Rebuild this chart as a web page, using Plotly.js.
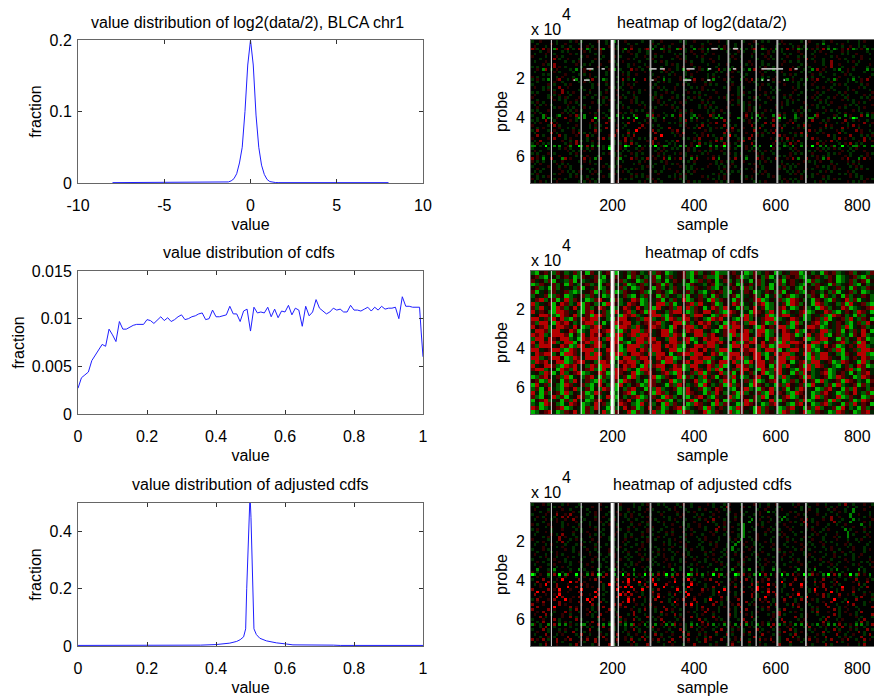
<!DOCTYPE html>
<html><head><meta charset="utf-8"><script src="https://cdn.plot.ly/plotly-3.0.1.min.js"></script>
<style>html,body{margin:0;padding:0;background:#fff}</style></head><body><div id="c" style="width:874px;height:697px"></div>
<script>
const log2X=[-8,-6,-4,-2,-1.6,-1.44,-1.28,-1.12,-0.96,-0.8,-0.64,-0.48,-0.32,-0.16,0,0.16,0.32,0.48,0.64,0.8,0.96,1.12,1.28,1.44,1.6,2,4,6,8];
const log2Y=[0.0005,0.0005,0.0005,0.0006,0.0008,0.001,0.0015,0.003,0.006,0.013,0.028,0.05,0.1,0.165,0.2,0.165,0.095,0.05,0.025,0.012,0.005,0.002,0.001,0.0007,0.0005,0.0005,0.0005,0.0005,0.0005];
const cdfX=[0,.01,.02,.03,.04,.05,.06,.07,.08,.09,.10,.11,.12,.13,.14,.15,.16,.17,.18,.19,.20,.21,.22,.23,.24,.25,.26,.27,.28,.29,.30,.31,.32,.33,.34,.35,.36,.37,.38,.39,.40,.41,.42,.43,.44,.45,.46,.47,.48,.49,.50,.51,.52,.53,.54,.55,.56,.57,.58,.59,.60,.61,.62,.63,.64,.65,.66,.67,.68,.69,.70,.71,.72,.73,.74,.75,.76,.77,.78,.79,.80,.81,.82,.83,.84,.85,.86,.87,.88,.89,.90,.91,.92,.93,.94,.95,.96,.97,.98,.99,.995,1];
const cdfY=[.0027,.0038,.0041,.0044,.0056,.0062,.0068,.0073,.0071,.0089,.0083,.0076,.0097,.0089,.0089,.0091,.0093,.0094,.0094,.0094,.0099,.0098,.0095,.0098,.0102,.0098,.0101,.0097,.0099,.0102,.0104,.0099,.0100,.0102,.0103,.0105,.0106,.0099,.0100,.0109,.0102,.0102,.0103,.0104,.0113,.0105,.0105,.0097,.0108,.0110,.0087,.0112,.0106,.0107,.0106,.0112,.0102,.0110,.0101,.0108,.0107,.0114,.0104,.0111,.0109,.0092,.0113,.0103,.0107,.0120,.0111,.0108,.0105,.0107,.0111,.0109,.0110,.0107,.0107,.0114,.0109,.0109,.0108,.0110,.0112,.0108,.0112,.0109,.0113,.0110,.0111,.0111,.0112,.0100,.0123,.0113,.0113,.0112,.0112,.0112,.0085,.0060];
const adjX=[0,.2,.355,.40,.42,.44,.46,.47,.48,.486,.489,.4927,.4957,.4986,.5014,.504,.507,.51,.517,.527,.546,.575,.604,.623,.74,.76,1];
const adjY=[.002,.002,.003,.005,.007,.01,.016,.022,.032,.06,.2,.36,.45,.53,.45,.33,.2,.06,.04,.027,.018,.011,.007,.004,.003,.002,.002];
const sampleGaps=[50,123,167,197,200,203,214,293,375,484,517,552,604,674];
const gapWidths=[1,1,1,1.4,1.4,1.4,1,1.8,1,1.8,1.8,1,2,1.8];
const gapColors=['#ddd','#f4f4f4','#f4f4f4','#fff','#fff','#ddd','#f4f4f4','#a8a8a8','#f4f4f4','#b0b0b0','#a8a8a8','#f4f4f4','#b0b0b0','#b0b0b0'];
const grayRow1=[136,153,173,181,291,308,316,328,381,401,434,442,495,503,565,618,646,654];
const grayRow2=[104,108,130,144,295,301,373,393,432,440,565,569,579,585,619,623];
const grayRow3=[442,458,495,508];
const xTicksHeat=[200,400,600,800];
const yTicksHeat=[20000,40000,60000];
const yTickHeatText=['2','4','6'];
const heatLog=[
"g..r.....g....g.r.g.....r..g..h...r.....g...g..r......g.g..r....g...r..g.....g...r..g.g....r......g..r....g..r.....g...g.r....",
"..g....r.g..r....g...g.....g.r.....g..g.....r.g....r....g.....g..r.....g..g....r..g.......g.r.g.....r...g.h....g.r.....g.....r",
".r...g.....g..g.....r.g.....r..g....r......g.g..r.g....r..g...r.....g.r...g.....g...r....g.....g.r.g....r...g....g..r..g.g....",
"srg.s.r.hs..rs.g.sr.hg.r.sh..srg.rh.s..g.rs.h..hg.r..hs.g..h.rg.h.s..hr.g.s.h.g.rs..hg.r.h.g.s.r.hg.h.r.g.s.h.hg.r.s.hg.r.h.gh",
"...g..r....g.g.....r.g...r.......g.r...g..g.....r.g.....g.r...r.g......g...r.g...g....r.g..g.....r.....g.r...g...r.g......g...",
".g...r..g.....r.g......g.r...g......r.g...g..r......g.g....r...g..r.....g.g.....r...g.r.....g.g...r...g....r.....g.g..r....g.",
"r....g...r.g......g.r.....g...r.g.....g..r...g.g.....r..g...g.r.....g....r..g...g....r.g.....r...g.g...r.....g.r.....g..r....g",
"...g....s.g..r...g.....r.g...g.....r.g....g.r......g..r.g.....g..r..g...g.r.......g...r.g..g.....r..s.g...g.....r.g.....r..g..",
".g...r......g..g.r....g.....r.g..r.....g.....g.r.g......r.g...g...r.....g...g..r....g.......r.g..g.....r..g..s.....g.r.g......",
"....r.g.s.......r..g.g...r.....g...g.r...g.......g.r.g....r.....g...g..r......g.r...g.g....r......g.r.....g..s..r.....g....r.g",
"g.g.....s.r.g.....g.....r..g.r.....g...g..r....g.....g.r...g.r.....g.....g..r......g.r..g......r.g...g.....r.s...g...r....g...",
"..r.hs.g.r....g.h..r.sg.....r.h.g...s.r.g..h....s.r..g.h.s...rg.h...s.g.h.r..g.h.s..r.g.h.....s.r..g..h.s.r...g.h..r.g....h.g.",
".g......r.g....g...r.......g.r...g.g.....r.....g.r.g....g...r......g.g...r.g.......r.g...g.r......g..g...r.g.....g.r.....g...r",
"....g.g.....r....g.g.r.....g.....r.g..r.....g.....g.r...g.r.....g.g....r....g.g.....r.......g.r.g.....r..g....g...r.g.......g.",
"r.g......g.r...g.....r.g.....g.g...r.......g..r.g.....r...g.....g.r.g....r...g......g.g..r.....g....r.g...g.....r....g.g...r..",
"g.r.g.h..rs..g.rh...g.s...hg.r...s.g.h...s.g.r..h.g...r.hg.s..r.g.h...r.g...h.r.s.g.h...r...gh.r..g.h.r.s...g.hr...g.h..r.s...",
"..g.....r..g.....g.r.g.....r...g.g....r.......g.r.g.....g..r...g.r.....g.g.....r.g......g.r....g.g.....r...g.r.....g..g.r.....",
"g.....r.g...g.r.......g.r..g.....g.r.g.....r.g.......g.r.g.....r.g.g.....r..g.....g.r.g.....r....g.g..r.......g.r.g.....g.r...",
".r..g.g...s..r....g...g.....r.g.g...r.......g.r.g...r.....g.g.r.......g.r..g.g.....r...g.g.....r.g......g.r..g.....g...r.g....",
"....g.r.g..s.....g.g.r.....g...r.g.....g.r.....g.g..r...g.....r.g.g.....r..g.....g.r....g.g.....r...g.g.....r.g....g.r.....g.g",
"g.g.....r..s.g.r.....g...g.r.......g.r.g.....g...r.g.....r.g.g.....r.......g.r.g.....r.g.g.....r..g.....r.g.....g.r...g.....r.",
".r....g.g.r...g.....r..g.g.....r.g...g.....r.g.r.....g.g.....r.g.......g.r.g.g.....r.g......r.g..g.....r.g.....r.g.g.....r.g..",
"r.....gr..g.rg...r.g..g...rg....r.g..rg.....gr.g...r.g...g.r.g...r..g.rg...r...g.rg...r.g...g.r.....g.r.g...g.r...gr....g.g.r..",
"..g.....r.g.g...r.......g.g.r.g.....r.g.....g.r...g.....r.g...g.r......g.r.g.....g.g...r.....g.r.g.....g.r.g.....r.g.g.....r..",
"g.r.g.......g.r.g.....r.g.g.....g...r.g.g.....r.g...g.r.g.....r.g.g.....r..g.g.r.....g.....r.g.g...r.....g.g.r.......g.r.g....",
".g.g.r.g.....r...g.g.....g.r...g.g.....r.g.....g.r.g...r.....g.g.r.......g.r.g.g...r.....g.r.g......g.r.g...g.....r.g.g.....r.",
"..r.....g.r..g.g...r.g.......g.g.r.g.....r.g.g.....r.g.......g.r.g.g...r.....g.r.g.g.....r.g......g.r...g.g.....r.g....g.r...g",
"g.g...r.....g.g.r.g.....r...g.......r.g.g...r.......g.r.g.r.....g.g..r.......g.r.g...r.g.......g.r.g.g.....r.g.g.....r.g......",
".r.g.......r.g.g.....r.g..g.....r.g.g.....r.g...g.....g.r.g.....g.r...g.g.....r.g.r.g.....g.r...g.g.....r.g.....g.r.....g.g.r.",
"g...hr...gh...r.sg.h...r...g.s.h.g...hr...h.s.r..g.h..s...gh.r...sg.h...r.....s.g.h.r...h.s.g...h.r.g..hs.....rg..h.r...s.h.g.",
"..g.h.hg.r..s...gh.h...G..r.hg...h.h..G...r.hg..h...r.g...h.h.r...gh.h.....hg.r.h..h.g..r.G.h...hg...hh.r...g.h.h...gGh.....g.",
"g.g..s..g.....r.g.....s.g...r.g......s...g.r.g..r.....g.s.g.r...g.....s.g....g.r..g.....s.g...r.g...g.s...g.r.....s..g.r..g...",
".g.r...s.r...g.......r.g...s.....g.s...g..r.......g.g.r.g.....g..r.s...g.......r.g...s.g.....r.s...g.....r.g...g.r.g.....s..r.",
"r.....g.s.g.....r....g.r.g...s.r..g.....s...g.g.......g.r...g.s.g.....s.g.g.....s...g...s.r.g....g.s.r.....s.r.....g.s.r...g..",
"..g.r.....r..g.g.....g.g...s.r...g.....s.r.....g..s......r.g.s...g.r.g...s...r...g.s.......s...g.r.g.....r.g.g...s.r...g.......",
"g.s...g.r..g...r.g.....s.g...r.s...g..R.....s.g....r.s.g.......r.g.....s.r.g.....s...g.r.s.g.........s.r.g.....r.g....s.r..g.",
".g.....s.g.....r.s.g.g.r.....g.r...s.g.....r.s.....g.r.s...g..r.......s.g.....r...g.r.g.s.....g.r.s.g...g.r.....s.g.....r...g",
"..s.g.....s.g...r...s.g.....r.s..g.g.s.....g...R....g.r.....g.r.s.g...g.R.g.....s.r.g.....s.r...g.g.s.......s.g.....s...g.g.r.",
"r.....r.s...g.r.....g...r.s.g.....s.r..g.g...s.........g.g.r.s.....g.s.r...g.g.s.......r.g.g.s.r....g.s.r.....g.s.r..g...s.g.",
".g.s.......r..g.s.g.g.r.......g.r.s.g.....r.s....g.g.s.....g.g...r.s.g.g...r.s...g.......s.r.g.g.s.......g.r.s.g.......r.s..r",
"g.r.g.g.....g.r.s.....g.r.....g.g.r.s.g.....s.r...g.g.....r..s.g.g....s.r.g.g...s.......r.g.g.s.r.g.....s.r.....g.r.s.g.g.....",
"hh.g.G..h.h..rh..Gh.s.h.h.g.hh..r.Gh...h.g.h.G.rhh..g.h.h.r.Gh...h.h.rG.g..hh.r..h.h...G.r..hg.h..h.r.G..h.h.rh..G.g.hhr.h..hG",
"g.....g...g.r.g...g.g.r...g.G...r.g...g.r.....g.r..g.g...r.g.....r.g..g.r.g...r.g.g.....r.g...g.r.......r.g.g.r.g...g.r.......",
".r.g.........r.g.g.r.g.......g.r.g.g...r.....g.r.g.......r.g.r.g.g...r.........g.r.g.r.g.......g.r...g.g.r.g.....r.g.g...r....",
"g.g...r.g.....g.r.........g.r.g.g...r.g.g.....r.g...g.r.g.....g.r.....g.r.g.g.....r.g...g.....r.g.g...r.....g.g.r...g.....r.g.",
"..r.g.....r.....g.g.r...g.....g.r.g...g.....r.g.r.g.....g.r.g.....r.g.....g.r.g...g.r.....g.g.r.......g.r.g.g.....r.g...g.r...",
"s.r.h..s...hs.r....s.r.h.s.....rh...s.r.g.s..r..s.h.r.s...h.s...r.s.h...r.s...h...s.r.g..s...r.s.h..s...r.h.s....r.s...h.s.r.",
"r.g.g...g..r.....g.r.g.......r.g.g.....g.r.g...g.r.....g.g.r.......g.r.g.g...r.....g.r.g...g.......r.g.g.r...g.....r.g.r.....",
".g.r.....r.g.g.......r.g...g.r.g.....g.r...g.g...r.g.r.....g.....r.g.g...r.....g.r.g.......r.g.g.r.....g.....r.g...g.r.g......",
"g.....r...g.r.g...g.......r.g.g.r.......g.r.g...g.....r.g.g.....r...g.g.r.g.......r.g.....g.r.g.g.......r.g.g.r.....g.r.g.....",
"..r.g.....r...g...r.g.g.....r.....g.g.r.g.......g.r.....g.g.r.g.....g.r.....g.g.r...g.....r.g.g.....r.g.....g.r.g.....g.r.g...",
".g.g.......r.g.g.r...g.r.g.....g.r.g.......r.g.g.....r.g.g.r.........g.r.g.g.....r.g.r.......g.g.r.g.....g.r.g.....r.g.......g",
"g.r.....g.r...g.g.....r.g...g.r.....g.r.g.....r.....g.g.r.g.......g.r.g.g...r.....g.r.g.......g.r.g...g.r.......g.g.r.g.......",
"..g.g.r.......g.r.g.g.....r.g.......r.g.g.r.......g.g.r.g.....r.g...g.r.....g.g.r.....g.r.g.......r.g.g...r.g.......r.g.g.....",
"r.g.....g.r.g.....g.r.g.g.......r.g.g.....g.r.g.....r.g.g.......r.g.g.r.....g.r.g.........g.r.g.g.r.......g.g.r.g.......g.r.g.",
".g.r.g...r.......g.g.r.g.....g.r.......g.r.g.r.g.......g.r.g.g.....r.g.g.r.......g.g.r.....g.r.g.g.....g.r.g.......r.g.g.r...g",
];
const heatCdf=[
"hGrsghsrhgshrGsghrshGgrhsrhgshsrGhgrshGshrgsGhhrsgrGhshgsrGhrgssGhrhgGsrshgrshrghs",
"rshGgrhrsgGhsrgshGrhsgrGshrhgsGrhsgrshGrgshhGsrgrsGhgsrhsGgrhsrshGgrsghsrGhgrshGsg",
"sgrhsGrghsGrhgrsGhgsrshgrGhsgshrGgsrhrGhsgsrGgshrhsgGrshrghsGrsgrhGshgrsrGhgshrsGr",
"GhsrgshrGsghrshgGrsrhgsGhrshgrsGshrghGsrghrsGhgsrGhrsgshrGgshrsghGrhsrgGshgrshGrhg",
"rshgGshrgrhsGrgsGhrsgshrGhsrgGshrhsgrGhsrgshGrhgsrGshrghsGrgshrhGsgrsGhrgshrGsghsr",
"sGgrhsgrshGhgrsGrhsgGhsrgrshGgsrhGsrgshrhGgsrshGrghsrGhgsrhsGrgshGrsghrhsGgrshrGhg",
"hrgsGhsrGhgrshsgrGhsrgshGrhsgrGshrghsGrgshrGsghrsGhgrshrGgshrsGhgrhsrGsghrGshrgsrh",
"gsRhrsGgRhsrgGhsRrgGshrgRsGhrgsGrhsgRGhrsgGRhsrgGshrgsRGhrgshGRsrhgGsrhGsgrRhsGgrh",
"RhgrsGrRshgRGsrhgGRsrhgRsrGhsgRRhsGgrsRhRgrsGhrgRsGgrhsRGhrgsGRshrgGRshgrhsGRgrshG",
"shRgrGRshrRgGshrRsgGhrRsgRrhsGRgrshRgRhsrGgRshRrgGshrRgsGhrsRgGhrshgGRshrgRsGhgrsR",
"RgsrhGRRsgrhGsRrgshGRgsRhrsGRRgrhsRRgGhsrRRgshGRsrhgGRsrhRgsGhrgsRGhrgRshGgsrhRsgG",
"grRRshGRsrRhgsGRRshrgGRsRhgrsRRhGsgrRshRRgrGhsRsgrGRhsrgRGhsRRgrsGhrgshGRsrhgGshrg",
"RRgshRrRhGsgRsRRgrhGsRRrgshRRhgsGRshRRgsrhGRsRgrhGsRhrgsRRGhgrRsgGhrshRGgrshRghsrG",
"shRRgGRsRrhgsRRhrGgsRsRRghrsRsRhgrRRGshrRsRghrGsRsrhRRgsGhRrgsGRhrgsRhGrgsrhGgshRr",
"RrsRhgRRsgRrGhsRRgrsGRRshRgrRRshgGRrsRRhgRsgrGRhRRsgrhGRrsgRRhGsrgRRsGhrgshRGgrshg",
"gRRshRRgrRsGhgRRrsRRhGsgRRhsRgrRRGsrhRsRRgrhGgsRRrsRhgRRGhsrRsgRhGrsgRRhgsGrhsgRrG",
"RsRhgRRRsGrhRgRsRrhGRRgsRhRRsgrRRhRsGrgRRhsRrgsGRhRRrgRsGhrgRRsGhrRgsRhGrshgGsrRhg",
"hRRgRsrRRhgGRsRRrhRsRGgrhRRsRRgrhRRgsRGhrRsRRhgGrsRRhRgrGsRhRRsgrRGhsRRrgGshrgRsGh",
"RgRsRRhgRRGrsRhRRgrRRshGgRRhRsRrgRRshRgGrhRRsRrgRhGsRRrRgshGRhRRsrgRRhGgrsRhgsGRrh",
"shRRRgrRsGhRRgsRRhrRsGgRRRhsrRRgRsRhGrgRRsRRhrgGRRsRgrhRsGhRRRgsrRRGhgRrsGhrsgRRhg",
"RRgrsRRhGRsgRRRhrgRRsGhRRgRshRRrgRRGhsRRrRgshRRGrgRsRRhgRRsGrhRRgsRhGgrshRGrgshRRs",
"gRsRRhrGRRsgrRhRRgsGRRhrRRsgRhRRrGgsRRhRRrgRsGhRRRgsrRRhGgRsRRhrgRGshRRgrhGsrgRRhG",
"RRhgsRRrGhRsgRRRhrsRGgRRhsRRrgRsRRGhrgRRsRRhgrGRsRRhgRRrGsgRRhRsrgGRhRRsgrGhrsgRsh",
"hRsRgrRRGhsRRgrhRRsGgRsRRhrRRgsGRRhrsRgRRhGsrRRgRhsGRrRRgshRRrGgsRhRRgrsGhRsrgGRhr",
"RgrRRshGRsRgrhRsGRRghrRsRgGRhsRRrgRsGhRRgrRshRGgrRRshgRRrGsRhRgrsGRhRsgrhGgshrRsGh",
"sRRhgrGRshRgrsRhGRgrRsRhgGRRsrhRgsRRGhrRsgRhRGrgshRRrgGRshRRgrhGsRRhgrsGhgrsRhGsrg",
"grhRsGgRhrsRGhgrRsGhRsrgRGhsRrgsRhGRrgshRGsgrRhsGrRgshrRGhsRgrGshRrhgsRGhrsgGrhsRg",
"GhsRrgshRGgrhsRgGshrRgsGRhrgsRGhsrgRGshrhRgsGrshRgGhrsRgrGshRhgrsGRhgrsGhRsgrGhRsr",
"rsGhRgrGshRrgshGRhgrsGRsrhgGRshrgRGhsgrRhGsgrhRsGrgshRGhrsRgGhshrRgsGRhgrsGRsrhgGs",
"GRgshrhGRsgrshGgRrhsGRghrsGhRsrgGshRrhgsGRrhgsGRhsrgGRsrhgGshRrgshGRgrhsGRhgrsGshr",
"hsGrRghGsrRhgsGrhRsgGrhsRgrGshRhgrsGhRrgsGhrRsghGrsRhgGsrRhgsGrhRsgrGhsRgrGshRgrhs",
"RgGshrsGRhrgsGhRsgrGhrsRGghrsGRshrgGhRsrgGshRrhgsGRhrgshGRgsrhGRsrgGhsRrgGhsrRghsG",
"shGrgRhsGgrRshGrhgRsGrhgsRGhrsgGRshrhGgsRrhGsgrRhGsrgshRGrhgsRGhrsgGRhsrgRGhsgrGhs",
"GrsRhgrGshRgrGhsRrgGhsrRgGhsrgRshGrhgsRGrhsgRrGhsgrRGshrgRhGsrgshRGhrgsGRhrgsGhRsr",
"hgGRsrhGgRsrGhgRrshGgRsrhGRgshrGRhsgrGhRsgrGRhsrgGhRsrgGhsRgrhGsRgrGhsRhgrGshRgsrG",
"RsGhgrsRGhrgGshRrgGshgRrsGhrRgsGhrsRGhgrsGRhrsgGhRsrgGRhsgrGhsRgrGshRhrgsGRrhgGshr",
"GhrsRgGhsrRgGshrgRhGsrgRGshrgRhGsrgGRshgrRGhsrgRhGsgrGRhsrgGRshgrRGhsrgGhRsgrGhsRg",
];
const heatAdj=[
"g...r.g....g.r...g.......r...g..r....g..g.r...g.g....g.r..g.....r.g...g.r...g....r.g..g..r.....g.r..g...r..g....g.s..g...r..g.",
"..g.....g.r.....g.g...r....g.r..g....g.g...r.....g..r.g...g..r....g..g.s.....r.g...g..r...g.....r.g..g.....r.g.r...g..g....r.",
".r....g....r..g.....g....r...g..g..r...g..r.g.....g.r...g....g.r...r..g.r...g.....g..r...g.r......g..r..g...g.r...g..h...r...",
"...g..r..r.....r.g...g.r....g..r...g.g...r....g.g....r...g.r.....g..r...g...r.g....r..h.g.....r.g...r...g....g..r.g..h.....g.",
"g....r...s..r.s.....g..r...g....r.g.r..g...g...r.....g.r....g.g...r....g..r..g...g.r.....g...g...r.g....r..g...g....h..r...g.",
"..r.g...g..s.s..r.g....g..r...g...g.r...g.r.....g.g...r....g.r...g..r.....g.r..g....g.r...g.h...r...g.....g..s..r...h....g.r.",
".g...r.g.r..r..s...g...r....g.r....g..g....r.g....g.r...g....g.r..s...g...r.g...h..r...g...h.g....r.s.g...r..s...g...h.g....r",
"....g....r.g....r.g..g...r.g.....g..r...g.r...g.r....g.g...r....s.g...r.g...r..h....g.r...g...r.g..s..g.r.....s.g...h....r.g..",
"r.g...r....g.r...g...g....g.r..g....g..r..g.....g..r...g.g...r.....g..r....g.h....r.g....g..r.....g.s...r...g..g..r.....h..g..",
".....g.r...g...g.r...r.g.....g.r...g.r...g..r....g....r..g...r.g....s.g..r...h..g...r..g.....r.g....r.g....g.....g...r...g.r..",
"g.r....g...r....g.g....r..g.....g..r..g...r.g..g...r....g.r....g...s..r....g.h...g....r.g.g...r.....g.r...g.r.....h.g....r...",
"..g..r.g.......r..g.r....g...g.r...g....g.r...g..r.g...r...g.....r.g...g.r...h.g.....r.g...r...g..g....r.g.....g...h..r..g.g.",
".g.....r.g.s...g.....r.g..g...r...g.g...r...g....g.r....g.r...g...r...g....g.h....r..g....g.r...g.....g.r..g...r...h.g....r...",
"....g.r...s.r...g....g...r..g.....g.r...g.g...r.g.....g.r...g..r....g...r..g.h.g..r.....g..r.g.....r.g....g...r.g..h.....g.r..",
"r.....g...s...g.r.g...r.....g.g...r...g...r..g....g.r...g....g.r....g...g.r.h...g.r....g.....r.g..g...r...g....r...g..g.r.....",
"..g.r....g.s.g.....g.g..r....g...r.g....g.r.....g.g...r..g....g..r.g.....g.h..r..g...r.g.....g..r....g...r.g.g.....r...g...g.r",
".g...g.r....g...g.r....g...g.r....g...g.r..g....r.g.g...r....g...g.r...g..h..r...g.g....r...g.....r.g.g...r....g..r.g.....g...",
"....r....g.r...g...g...r.g....g.r...g...r..g.g.....r..g.r...g.g....r...g.h....g.r...g..r.....g.g...r...g..g..r.....g.r...g....",
"g...r.g.....r..g....r..g....r..g..g....r.g....g.r.g.....g.r...g...r...g..h.g...r...g....g.r.....g.r..g.....g.r..g....r...g.r..",
"..g....g.r.....g.r...g..g...r....g.r..g.....g.r....g.r...g.....r.g...g.r..g..r...g..r.....g.g.r....g...r.g....g..r..g....g...",
".r...g...r.g.....g...r...g..g.r....g...r.g....g.r...g..r.g.....g..r...g...r.g...g.r...g.....r..g...g.r.....g..r...g..g..r....",
"...g.r...g...r.g...g...r...g..r...g.g...r....g..r..g....r.g.g...r....g.r....g.r...g.....g..r..g.....r.g...g...r.g....g.r...g.",
"g.....g.r...g.....g...r.g.g.....r..g....g.r.g....r.g..g....r...g..r.g....g...r.g...g.r.....g...r.g.....g.r...g....r..g.....r.",
"..r.g.....r.g.g..r....g....g.r.g....g..r...g.g..r.....g.r....g.g...r.g.....r.g....g...r.g.....g..r...g....g.r...g..r....g.g.r.",
".g....g.r.....g...g.r....g....r...g.g.r.....g.g...r.g.....g.r....g...r.g...g.r.....g.r...g..g.....r.g....g...r.g.....g.r...g..",
"...r.....g.r.g....g...r..g.g...r...g....r.g.....g.r...g..g....r.g.....g...r.g.....r.g...g.....r.g...g..r....g.g...r.....g...r",
"..h...g.h.....g..h.g....h...g.h..g...h...g.h.......h..g...h.g......h.g...h...g.h....g...h.g......h...g.h.....g.h...g...h.g....",
"r.g...r.g..g..r.....g.r...g.....r.g..g...r....g.r...g.....r.g...g.r.....g..r.g....g.r.....g.r...g.....r..g...r...g.....r.g...g",
"Gh.r..h.s.G.hs..G.r.h.s.Gh.s.rh..G.s.h.r.G.sh.s.rG.h.s.r.Gh.s.h.r.G.sh.r..Gh.s.r.h.G.s.h.r.G.h.s.r.G.hs.r.h.G.s.h.r.G.hs.r.h.",
"..r...g...g.r...g..r....g.s....g..r...g.g....r...g.s....g.r...g.....s.g...g.r..g.....g...r.g....r...g.....g.r...g...r.g....g.",
"g...s....r.R.....s...r.s.....g.s...R.s...r..R.g.....s..r.R.g...r.s......g.r...s.g...r.s.....g...s..r...g..s...r...g...s...r.g.",
"..s...s.g.....R.s..r.....s....g..s.R...R..g.s.....r.R.....s..g.....s.g...r..s...g.s.r....g.R...r....g..s.r...g.s.....r.g..s...",
".g.r.R...s...r....s.r.....g.R..s...s...g.s...R...s.....g..R.r..g....s...r.g.....s.g...R.r...g.s...R....g..s...r.g......s.g...",
"...r.....s...R..s...r.r...g..s..s.R.R...g.s.....R..g.r...R.....g..s...g...s..r.g..R.r....s..g.....s.g...r.s..g...R...r..g.s..",
"s.....s.r.R...r...R.....s.g..r.R.....s..R...g.s......R..g.r...s.r.g...R.....g...r.R...s....g...s.....g.R...s...g.s...r.g.....",
"..R.s.....s..r...s.....R...g.R...s.R..r.g...s.....r...g.R.....r...g.R...r.g..s...r..g.R.s..g.....r...g.s.....R.g.....s...g.r.",
".s...r..r.R.......s..r..s.g..r..R.s.s...g...r.s...g.s....R...r....g.r.....g.r...s.g...r..s...g.r.R..g...r.s.g...s..r.g...r..g.",
"...r.....R.s...r.s.....R.....g.s...s...s.r..g.R.r..g....s..r.....g...s.g..r.....s.g..R...r.g..s...g.R.....s.g...r.....g.s...r",
"g.s...r.s...R.r.....R.s...g..r.....R.s...g.r.s....g..r.s...s...g.R...r.g...s.....g.s.r..g...s...g.s...r.g.....R...g...s.....g.",
"..r.s.....s...r..s...R...s.g.R...s.R.r...g.....s..g.R.....r.s..g...s.g..r.....s.g...r.s.g...r...g...s...g.r..s...g.R.....g.r..",
"s...r.....s.r.....r...s.g.....s.s.....r.g..s.......g.r..s.R.g.....s..g...r.s...g.r.....g.s...g.s.r...g.....s...g...r.s...g....",
"..s.....R.....s.r.....g.r.s.....r.s..g...r.g.r..s...g.....r.g.s.....g.r...g.s.....g.r.s..g.....g.s....g.r...s...g.r...g.....s",
"s.....s.r.....g.s...r.g.r...s.g.....r..g.s...g...s.r..g.....g.r.s...g...r.g...s.....g.r...g.s.....g...r.g.....s.g..r...g.....",
"..r.s...g...s.r..g...s.g...r.s.g.....s.g.....g.s...g.....r.g...s..r.g.....g.s...g.r.....g.s...g.r.....g.s...r...g.r...g.s.....",
".r...s.g...r..g.....r.g..s...g.r...g.s...g.....g.r..s.g.....g.r...g.....s.g...r.g.....g.r.s.g.....g.r...g.....s.g...r.g.....s.",
"...s.g.....r..s.g.....g.s.....g.s.....g...s.g.r.....g.r...s.g.....s.g...r.g.....s.g.....r.g.....s.g.r.....g.s...g.....r.g...g",
"g...r...s.g.....s.g.....g.r.....g.r..s.g.....g.s.....g.r.....s.g...r.g.....g.s...g.....r.g.s.....g.r.....g.s...g.r.....g.s...g",
"..g.s.....g.r.g.....g.s.....g...s.g.....r.g.....s.g.r.....g...s.g.....r.g.....s.g...r.g.....s.g...r.g.....s.g...r.....g.s.g...",
"hr.g..h.s.h.h.r.g.hh.r..s.h.h.r.g.h.hs.r.h.g.h.r.h.hs.r.g.h.h.r.s.h.g.h.r.h.s.h.g.h.r.h.s.h.g.r.h.h.s.g.h.r.h.h.s.g.r.h.h.g.s",
"...g.s..g.....g...r.g.g...s...g...g.r.g...g.s...g.r.g...g.s..g.r...g...g.r.g...r.g.g...s.g...r.g...g.s...g.r...g.s..g.r..g...",
"g...s.g...g.r...g....s..g...r.g...g..s.g....g.r...g...s.g...g.r...g..s...g.r.g....s.g...g.r...s.g....g.r...g..s.g...r.g...s.g",
"..r...g...r.g..s...g.r...g...s...g.r...g.s...g...r.g...s.g...r.g...s...g.r...g.s...g..r...g.s...g.r...g...s.g...r..g...s.g...",
".g...s...g.r....g.s..g...r.g...s...g..r..g...s.g...r...g.s...g.r...g...s.g...r.g....s...g.r...g.s...g...r.g....s..g..r...g.s.",
"...g..r.g....s...g..r...g.s...g...r.g...s.g....r..g...s.g...r..g.s....g...r.g....s.g...r..g....s.g...r.g...s....g.r.g...s...g",
"s.r.s.g..s..r.s...r.s..s...r.g.s..r.s..g.s..r.s.g..s...r.s..g..s.r...s..g.r.s..g...s.r.s..g..s...r.g.s..r..g.s...r.s..g..s.r.",
".g...r...s.g.....r.g...s.....g.r...g.s.....r..g...s.g....r...g.s...g.....r.g...s...g....r.g...s...g.....r.g....s.g.....r.g...",
"...g.s...r....g.s.....g.r...s.g.....r.g...s.....g..r...g...s.....g.r...g.s.....g...r.g....s...g.....r.g....s.g.....r...g.s....",
];
const chars={'.':0,'g':-0.55,'h':-1.5,'G':-3,'r':0.55,'s':1.5,'R':3};
const SAMPLE_MAX=841, PROBE_MAX=73800;
const zLimits=[3,4.2,3];
function decode(rows,nC){return rows.map(s=>{const a=[];for(let i=0;i<nC;i++){a.push(chars[s[i]]||0);}return a;});}
function centres(n,max){const a=[];for(let i=0;i<n;i++)a.push((i+0.5)*max/n);return a;}

const W=874,H=697;
const fx=p=>p/W, fy=p=>1-p/H;
const F='Liberation Sans, Arial, sans-serif';
const LC='#666';
const FS=16;
const layout={width:W,height:H,margin:{l:0,r:0,t:0,b:0},showlegend:false,paper_bgcolor:'#fff',plot_bgcolor:'#fff',font:{family:F,size:FS,color:'#000'},annotations:[]};
const traces=[];
const tops=[[40,183],[271,414],[503,646]];
function lineAxis(n,i,xr,xv,xt,yr,yv,yt,st){
  const [t,b]=tops[i];
  layout['xaxis'+n]={domain:[fx(78),fx(423)],anchor:'y'+n,range:xr,tickmode:'array',tickvals:xv,ticktext:xt,ticks:'inside',ticklen:4,tickcolor:'#333',showline:true,linecolor:LC,mirror:'allticks',showgrid:false,zeroline:false,tickfont:{size:FS,family:F},ticklabelstandoff:8,title:{text:'value',standoff:5,font:{size:FS,family:F}}};
  layout['yaxis'+n]={domain:[fy(b),fy(t)],anchor:'x'+n,range:yr,tickmode:'array',tickvals:yv,ticktext:yt,ticks:'inside',ticklen:4,tickcolor:'#333',showline:true,linecolor:LC,mirror:'allticks',showgrid:false,zeroline:false,tickfont:{size:FS,family:F},ticklabelstandoff:2,title:{text:'fraction',standoff:st,font:{size:FS,family:F}}};
}
lineAxis(1,0,[-10,10],[-10,-5,0,5,10],['-10','-5','0','5','10'],[0,0.2],[0,0.1,0.2],['0','0.1','0.2'],3);
lineAxis(2,1,[0,1],[0,.2,.4,.6,.8,1],['0','0.2','0.4','0.6','0.8','1'],[0,0.015],[0,0.005,0.01,0.015],['0','0.005','0.01','0.015'],3);
lineAxis(3,2,[0,1],[0,.2,.4,.6,.8,1],['0','0.2','0.4','0.6','0.8','1'],[0,0.5],[0,0.2,0.4],['0','0.2','0.4'],3);
const lineStyle={color:'#1f1fff',width:1};
traces.push({type:'scatter',mode:'lines',x:log2X,y:log2Y,xaxis:'x',yaxis:'y',line:lineStyle});
traces.push({type:'scatter',mode:'lines',x:cdfX,y:cdfY,xaxis:'x2',yaxis:'y2',line:lineStyle});
traces.push({type:'scatter',mode:'lines',x:adjX,y:adjY,xaxis:'x3',yaxis:'y3',line:lineStyle});
layout.xaxis=layout.xaxis1;layout.yaxis=layout.yaxis1;delete layout.xaxis1;delete layout.yaxis1;
layout.xaxis.anchor='y';layout.yaxis.anchor='x';
[heatLog,heatCdf,heatAdj].forEach((rows,i)=>{
  const n=4+i,[t,b]=tops[i];
  const nC=Math.min(...rows.map(r=>r.length));
  const zL=zLimits[i];
  layout['xaxis'+n]={domain:[fx(531),1],anchor:'y'+n,range:[0,SAMPLE_MAX],tickmode:'array',tickvals:xTicksHeat,ticks:'',showline:true,linecolor:LC,mirror:true,showgrid:false,zeroline:false,tickfont:{size:FS,family:F},ticklabelstandoff:8,title:{text:'sample',standoff:5,font:{size:FS,family:F}}};
  layout['yaxis'+n]={domain:[fy(b),fy(t)],anchor:'x'+n,range:[PROBE_MAX,0],tickmode:'array',tickvals:yTicksHeat,ticktext:yTickHeatText,ticks:'',showline:true,linecolor:LC,mirror:true,showgrid:false,zeroline:false,tickfont:{size:FS,family:F},ticklabelstandoff:2,title:{text:'probe',standoff:4,font:{size:FS,family:F}}};
  traces.push({type:'heatmap',x:centres(nC,SAMPLE_MAX),y:centres(rows.length,PROBE_MAX),z:decode(rows,nC),xaxis:'x'+n,yaxis:'y'+n,zmin:-zL,zmax:zL,showscale:false,zsmooth:false,colorscale:[[0,'#00ff00'],[0.5,'#000000'],[1,'#ff0000']]});
  sampleGaps.forEach((s,k)=>traces.push({type:'scatter',mode:'lines',x:[s,s],y:[0,PROBE_MAX],xaxis:'x'+n,yaxis:'y'+n,line:{color:gapColors[k],width:gapWidths[k]}}));
  layout.annotations.push({xref:'paper',yref:'paper',x:fx(531),y:fy(t-11),text:'x 10',showarrow:false,xanchor:'left',yanchor:'middle',xshift:-2,font:{size:FS,family:F}});
  layout.annotations.push({xref:'paper',yref:'paper',x:fx(562),y:fy(t-26),text:'4',showarrow:false,xanchor:'left',yanchor:'middle',xshift:-2,font:{size:FS,family:F}});
});
function addSeg(list,yv){const xs=[],ys=[];for(let k=0;k<list.length;k+=2){xs.push(list[k],list[k+1],null);ys.push(yv,yv,null);}
  traces.push({type:'scatter',mode:'lines',x:xs,y:ys,xaxis:'x4',yaxis:'y4',line:{color:'#c0c0c0',width:1.6}});}
addSeg(grayRow1,14900);addSeg(grayRow2,20700);addSeg(grayRow3,4500);
const titles=[['value distribution of log2(data/2), BLCA chr1',248,22],['value distribution of cdfs',249,252],['value distribution of adjusted cdfs',250,484],['heatmap of log2(data/2)',702,22],['heatmap of cdfs',702,252],['heatmap of adjusted cdfs',702,484]];
titles.forEach(t=>layout.annotations.push({xref:'paper',yref:'paper',x:fx(t[1]),y:fy(t[2]),text:t[0],showarrow:false,xanchor:'center',yanchor:'middle',font:{size:FS,family:F}}));
Plotly.newPlot('c',traces,layout,{displayModeBar:false,staticPlot:true});
</script></body></html>
